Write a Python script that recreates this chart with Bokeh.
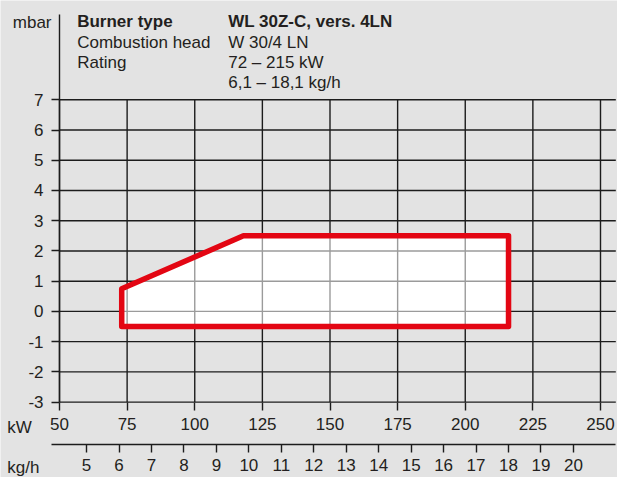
from bokeh.plotting import figure
from bokeh.models import Range1d, LinearAxis, FixedTicker, ColumnDataSource
from bokeh.core.properties import value
from bokeh.embed import file_html
from bokeh.resources import INLINE

# ---------------- data ----------------
kw_ticks = [50, 75, 100, 125, 150, 175, 200, 225, 250]
mbar_ticks = [-3, -2, -1, 0, 1, 2, 3, 4, 5, 6, 7]
kgh_ticks = [5, 6, 7, 8, 9, 10, 11, 12, 13, 14, 15, 16, 17, 18, 19, 20]
kw_per_kgh = 12.0

envelope_kw = [73, 73, 118, 216, 216]
envelope_mbar = [-0.5, 0.75, 2.5, 2.5, -0.5]

header_labels = ["Burner type", "Combustion head", "Rating", ""]
header_values = ["WL 30Z-C, vers. 4LN", "W 30/4 LN", "72 \u2013 215 kW", "6,1 \u2013 18,1 kg/h"]
header_styles = ["bold", "normal", "normal", "normal"]

# ---------------- style / layout ----------------
FONT = "Liberation Sans"
FS = "17px"
TXT = "#231f20"
GRID = "#1c1c1c"
GRID_IN = "#9b9b9b"
RED = "#e30613"
BG = "#e3e3e3"
LW = 1.4

W, H = 617, 477
PX_KW = 2.705      # pixels per kW
PX_MBAR = 30.23    # pixels per mbar
X50_PX = 59.0      # page x of 50 kW
Y7_PX = 99.3       # page y of 7 mbar


def kx(px):
    return 50 + (px - X50_PX) / PX_KW


def my(py):
    return 7 + (Y7_PX - py) / PX_MBAR


X0, X1 = kx(0), kx(W)
Y0, Y1 = my(H), my(0)
X_END = kx(615.3)

p = figure(width=W, height=H,
           x_range=Range1d(X0, X1), y_range=Range1d(Y0, Y1),
           x_axis_type=None, y_axis_type=None,
           output_backend="svg", toolbar_location=None)
p.min_border = 0
p.min_border_left = 0
p.min_border_right = 0
p.min_border_top = 0
p.min_border_bottom = 0
p.background_fill_color = BG
p.border_fill_color = BG
p.outline_line_color = None
p.xgrid.visible = False
p.ygrid.visible = False

top_tick = max(mbar_ticks)
bot_tick = min(mbar_ticks)

# ---- black grid lines ----
p.segment(x0=kw_ticks, y0=[bot_tick] * len(kw_ticks), x1=kw_ticks, y1=[top_tick] * len(kw_ticks),
          line_color=GRID, line_width=LW)
p.segment(x0=[min(kw_ticks)] * len(mbar_ticks), y0=mbar_ticks,
          x1=[X_END] * len(mbar_ticks), y1=mbar_ticks,
          line_color=GRID, line_width=LW)

# ---- envelope fill ----
p.patch(envelope_kw, envelope_mbar, fill_color="white", line_color=None)


# ---- grey grid lines inside envelope ----
def cross(along, other, c):
    out = []
    n = len(along)
    for i in range(n):
        a1, a2 = along[i], along[(i + 1) % n]
        o1, o2 = other[i], other[(i + 1) % n]
        if a1 != a2 and min(a1, a2) <= c <= max(a1, a2):
            out.append(o1 + (c - a1) * (o2 - o1) / (a2 - a1))
    return out


gx0, gy0, gx1, gy1 = [], [], [], []
for t in kw_ticks:
    if min(envelope_kw) < t < max(envelope_kw):
        ys = cross(envelope_kw, envelope_mbar, t)
        gx0.append(t); gx1.append(t); gy0.append(min(ys)); gy1.append(max(ys))
for t in mbar_ticks:
    if min(envelope_mbar) < t < max(envelope_mbar):
        xs = cross(envelope_mbar, envelope_kw, t)
        gx0.append(min(xs)); gx1.append(max(xs)); gy0.append(t); gy1.append(t)
p.segment(x0=gx0, y0=gy0, x1=gx1, y1=gy1, line_color=GRID_IN, line_width=LW)

# ---- envelope outline ----
p.patch(envelope_kw, envelope_mbar, fill_color=None, line_color=RED, line_width=5.5,
        line_join="round")


# ---- axes ----
def style_axis(ax, tick_out, standoff):
    ax.major_tick_out = tick_out
    ax.major_tick_in = 0
    ax.minor_tick_out = 0
    ax.minor_tick_in = 0
    ax.major_tick_line_color = GRID
    ax.major_tick_line_width = LW
    ax.major_label_text_font = FONT
    ax.major_label_text_font_size = FS
    ax.major_label_text_color = TXT
    ax.major_label_standoff = standoff


yax = LinearAxis(ticker=FixedTicker(ticks=mbar_ticks), fixed_location=min(kw_ticks))
style_axis(yax, 8, 8)
yax.axis_line_color = GRID
yax.axis_line_width = LW
yax.bounds = (bot_tick, my(14))
yax.major_label_overrides = {t: str(t) for t in mbar_ticks}
p.add_layout(yax, "left")

kwax = LinearAxis(ticker=FixedTicker(ticks=kw_ticks), fixed_location=bot_tick)
style_axis(kwax, 8, 8)
kwax.axis_line_color = None
p.add_layout(kwax, "below")

p.extra_x_ranges = {"kgh": Range1d(X0 / kw_per_kgh, X1 / kw_per_kgh)}
kgax = LinearAxis(x_range_name="kgh", ticker=FixedTicker(ticks=kgh_ticks),
                  fixed_location=my(444))
style_axis(kgax, 8, 6)
kgax.axis_line_color = GRID
kgax.axis_line_width = LW
kgax.bounds = (kx(50.7) / kw_per_kgh, X_END / kw_per_kgh)
p.add_layout(kgax, "below")

# ---- header ----
rows_px = [21.0, 41.7, 61.7, 81.5]
hdr = ColumnDataSource(dict(
    xl=[kx(76.7)] * len(rows_px), xr=[kx(227.7)] * len(rows_px),
    y=[my(r) for r in rows_px],
    lab=header_labels, val=header_values, style=header_styles))
for xcol, tcol in (("xl", "lab"), ("xr", "val")):
    p.text(x=xcol, y="y", text=tcol, source=hdr, text_font=value(FONT),
           text_font_size=FS, text_color=TXT, text_font_style="style",
           text_align="left", text_baseline="middle")

# ---- unit labels ----
units = ColumnDataSource(dict(
    x=[kx(51), kx(6.7), kx(6.7)], y=[my(21.7), my(426.7), my(467)],
    t=["mbar", "kW", "kg/h"], a=["right", "left", "left"]))
p.text(x="x", y="y", text="t", source=units, text_font=value(FONT), text_font_size=FS,
       text_color=TXT, text_align="a", text_baseline="middle")

open("out.html", "w").write(file_html(p, INLINE))
